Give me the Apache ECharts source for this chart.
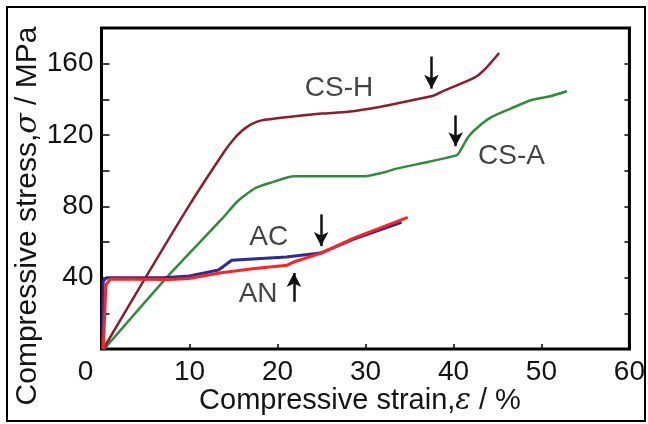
<!DOCTYPE html>
<html><head><meta charset="utf-8">
<script src="https://cdn.jsdelivr.net/npm/echarts@6/dist/echarts.min.js"></script>
<style>html,body{margin:0;padding:0;background:#fff}#c{width:648px;height:424px}</style>
</head><body><div id="c"></div>
<script>
// strain (%), stress (MPa)
const csH = [[0.2,0],[5,40],[9.9,80],[14,111],[15,117.5],[16,122.5],[17,126],[18.2,128.2],[21,130],[25,132],[28,133],[31.6,135.7],[35.3,139.5],[37.7,142],[39,145],[42.4,152.2],[43.5,156.5],[45.2,166]];
const csA = [[0.3,0],[7.3,39.5],[13.6,72.5],[15.5,83],[17.4,90],[19.2,93.2],[21.9,96.8],[29.7,96.8],[32.3,99.3],[33.4,101],[37.2,105],[40.4,108.7],[40.7,110.5],[41.7,119],[42.8,124.5],[44.3,130],[46.5,134.8],[48.8,139.5],[51,141.7],[52.9,144.5]];
const ac  = [[0.1,0],[0.2,38],[0.6,40],[7,40],[10,40.9],[13.3,44.3],[14.8,49.8],[21,51.6],[24.9,53.8],[28.6,61.5],[34.1,71]];
const an  = [[0.2,0],[0.5,36],[1.0,39.2],[7.7,39],[9.9,39.5],[13.6,42.7],[17.4,45.2],[21.1,47],[21.9,48.9],[24.9,53.6],[28.6,62],[34.8,73.8]];
const curveLabels = [[27.0,146.2,'CS-H'],[46.6,108.1,'CS-A'],[19.0,62.7,'AC'],[17.8,30.5,'AN']];
// arrows: x, y start, x, y end (tip)
const arrows = [[37.5,164,37.5,146],[40.25,131,40.25,113.7],[24.96,75.5,24.96,57.7],[21.87,26.5,21.87,42.6]];
const xTicks = [0,10,20,30,40,50,60];
const yLabelVals = [40,80,120,160];

const FONT = 'Liberation Sans, Arial, sans-serif';
const FS = 28;
const TXT = '#141414';
const chart = echarts.init(document.getElementById('c'));
const L = 101.5, T = 28, R = 637, B = 349;
chart.setOption({
  backgroundColor:'#fff',
  animation:false,
  grid:{left:L, top:T, width:R-L, height:B-T, show:true, borderColor:'#000', borderWidth:3, backgroundColor:'transparent'},
  xAxis:{type:'value', min:0, max:60, interval:10,
    axisLine:{show:false}, splitLine:{show:false},
    axisTick:{show:true, inside:true, length:5, lineStyle:{color:'#000', width:1.5}},
    axisLabel:{margin:9, color:TXT, fontSize:FS, fontFamily:FONT,
      formatter:v=> v===0 ? '{z|0}' : (xTicks.indexOf(v)>=0 ? String(v) : ''),
      rich:{z:{fontSize:FS, fontFamily:FONT, color:TXT, padding:[0,32,0,0]}}}
  },
  yAxis:[{type:'value', min:0, max:180, interval:20,
    axisLine:{show:false}, splitLine:{show:false},
    axisTick:{show:true, inside:true, length:8, lineStyle:{color:'#000', width:1.5}},
    axisLabel:{margin:8, color:TXT, fontSize:FS, fontFamily:FONT,
      formatter:v=> yLabelVals.indexOf(v)>=0 ? String(v) : ''}
  },{type:'value', min:0, max:180, interval:20, position:'right',
    axisLine:{show:false}, splitLine:{show:false}, axisLabel:{show:false},
    axisTick:{show:true, inside:true, length:5, lineStyle:{color:'#000', width:1.5}}
  }],
  graphic:[
    {type:'rect', shape:{x:7, y:7, width:638, height:414}, style:{fill:'none', stroke:'#000', lineWidth:2}, z:100},
    {type:'text', x:360, y:401, style:{text:'{a|Compressive strain,}{b|ε}{a| / %}', align:'center', verticalAlign:'middle',
      rich:{a:{fontSize:29, fontFamily:FONT, fill:TXT}, b:{fontSize:29, fontFamily:'DejaVu Serif', fontStyle:'italic', fill:TXT}}}},
    {type:'text', x:28, y:216, rotation:Math.PI/2, style:{text:'{a|Compressive stress,}{b|σ}{a| / MPa}', align:'center', verticalAlign:'middle',
      rich:{a:{fontSize:30, fontFamily:FONT, fill:TXT}, b:{fontSize:30, fontFamily:'DejaVu Serif', fontStyle:'italic', fill:TXT}}}}
  ],
  series:[
    {name:'CS-A', type:'line', data:csA, showSymbol:false, smooth:0.2, lineStyle:{color:'#2f8c3a', width:2.5}},
    {name:'CS-H', type:'line', data:csH, showSymbol:false, smooth:0.2, lineStyle:{color:'#8c1d2c', width:2.5}},
    {name:'AC', type:'line', data:ac, showSymbol:false, lineStyle:{color:'#2e2a96', width:3}},
    {name:'AN', type:'line', data:an, showSymbol:false, lineStyle:{color:'#ff2222', width:3}},
    {name:'labels', type:'scatter', data:curveLabels, symbolSize:0,
      label:{show:true, position:'inside', formatter:p=>p.data[2], color:TXT, fontSize:FS, fontFamily:FONT},
      markLine:{silent:true, symbol:['none','arrow'], symbolSize:[11,14], label:{show:false},
        lineStyle:{color:'#111', width:2.5, type:'solid'},
        data: arrows.map(a=>[{coord:[a[0],a[1]]},{coord:[a[2],a[3]]}])}
    }
  ]
});
</script></body></html>
